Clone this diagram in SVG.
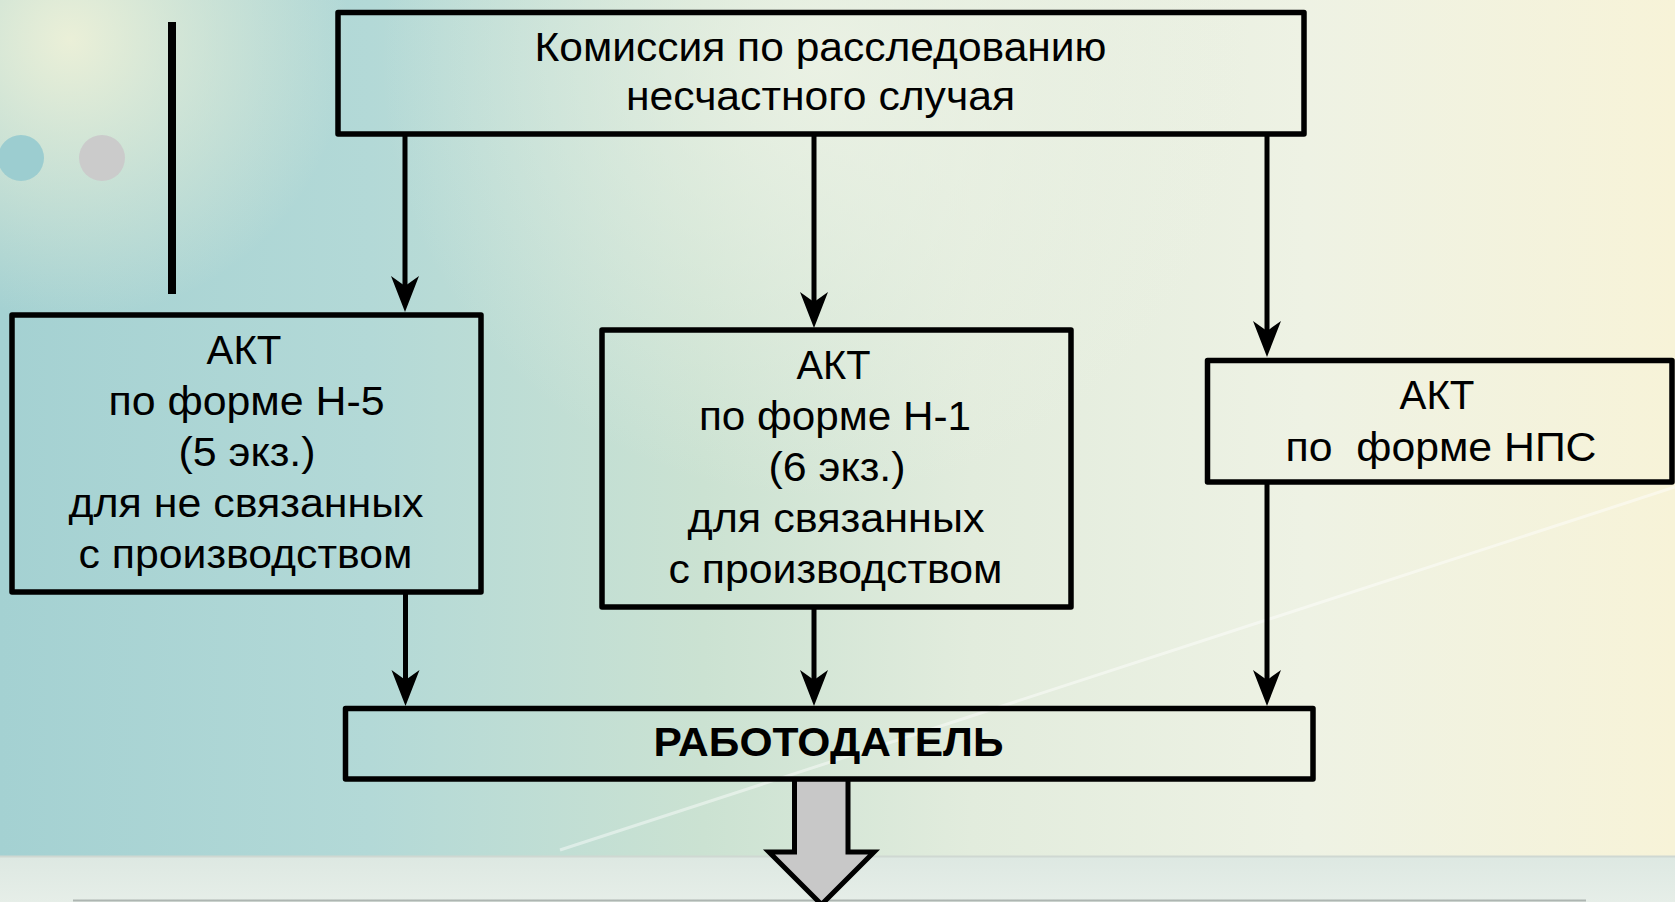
<svg xmlns="http://www.w3.org/2000/svg" width="1675" height="902" viewBox="0 0 1675 902">
  <defs>
    <linearGradient id="bgH" x1="0" y1="0" x2="1" y2="0">
      <stop offset="0" stop-color="#a4d1d2"/>
      <stop offset="0.22" stop-color="#b3d9d7"/>
      <stop offset="0.42" stop-color="#cbe2d2"/>
      <stop offset="0.58" stop-color="#e2ecdd"/>
      <stop offset="0.78" stop-color="#eef2e4"/>
      <stop offset="1" stop-color="#f7f3d8"/>
    </linearGradient>
    <radialGradient id="tl" cx="70" cy="40" r="280" gradientUnits="userSpaceOnUse">
      <stop offset="0" stop-color="#eef1d8" stop-opacity="0.95"/>
      <stop offset="1" stop-color="#eef1d8" stop-opacity="0"/>
    </radialGradient>
    <radialGradient id="tm" cx="820" cy="60" r="440" gradientUnits="userSpaceOnUse">
      <stop offset="0" stop-color="#eef3e6" stop-opacity="0.85"/>
      <stop offset="1" stop-color="#eef3e6" stop-opacity="0"/>
    </radialGradient>
    <linearGradient id="band" x1="0" y1="0" x2="0" y2="1">
      <stop offset="0" stop-color="#dde8e2"/>
      <stop offset="1" stop-color="#e6eee8"/>
    </linearGradient>
    <marker id="ah" markerUnits="userSpaceOnUse" markerWidth="40" markerHeight="30" orient="auto" overflow="visible" refX="0" refY="0">
      <path d="M26,0 L-10,-14 L0,0 L-10,14 Z" fill="#000"/>
    </marker>
  </defs>
  <style>
    .box { fill: none; stroke: #000; stroke-width: 5.5; stroke-linejoin: round; }
    .t { font-family: "Liberation Sans", Arial, sans-serif; font-size: 40px; fill: #000; text-anchor: middle; }
    .b { font-weight: bold; font-size: 41px; }
    .conn { stroke: #000; stroke-width: 5; fill: none; marker-end: url(#ah); }
  </style>

  <!-- background -->
  <g id="background">
    <rect x="0" y="0" width="1675" height="902" fill="url(#bgH)"/>
    <rect x="0" y="0" width="1675" height="902" fill="url(#tm)"/>
    <rect x="0" y="0" width="560" height="420" fill="url(#tl)"/>
    <line x1="560" y1="850" x2="1675" y2="487" stroke="#ffffff" stroke-opacity="0.45" stroke-width="3"/>
    <rect x="0" y="856" width="1675" height="46" fill="url(#band)"/>
    <line x1="0" y1="856.5" x2="1675" y2="856.5" stroke="#cfd8d2" stroke-width="2"/>
    <line x1="73" y1="900.5" x2="1586" y2="900.5" stroke="#aeb6b2" stroke-width="2"/>
  </g>

  <!-- decoration -->
  <g id="decor">
    <circle cx="21" cy="158" r="23" fill="#9ccdd0"/>
    <circle cx="102" cy="158" r="23" fill="#cbcbcb"/>
    <rect x="168" y="22" width="8" height="272" fill="#000"/>
  </g>

  <!-- connectors -->
  <g id="connectors">
    <line class="conn" x1="405" y1="134" x2="405" y2="286"/>
    <line class="conn" x1="814" y1="134" x2="814" y2="302"/>
    <line class="conn" x1="1267" y1="134" x2="1267" y2="331"/>
    <line class="conn" x1="405.5" y1="592" x2="405.5" y2="680"/>
    <line class="conn" x1="814" y1="607" x2="814" y2="680"/>
    <line class="conn" x1="1267" y1="482" x2="1267" y2="680"/>
    <path id="blockArrow" d="M794.5,779 L794.5,852 L769,852 L821.5,904.5 L874,852 L848,852 L848,779" fill="#c8c8c8" stroke="#000" stroke-width="5" stroke-linejoin="miter"/>
  </g>

  <!-- nodes -->
  <g id="commission">
    <rect class="box" x="338" y="12.5" width="966" height="121.5"/>
    <text class="t" x="820.5" y="61" textLength="572" lengthAdjust="spacingAndGlyphs">Комиссия по расследованию</text>
    <text class="t" x="820.5" y="110" textLength="389" lengthAdjust="spacingAndGlyphs">несчастного случая</text>
  </g>

  <g id="actH5">
    <rect class="box" x="12" y="315" width="469" height="277"/>
    <text class="t" x="244" y="363.5" textLength="75" lengthAdjust="spacingAndGlyphs">АКТ</text>
    <text class="t" x="246.5" y="414.7" textLength="276" lengthAdjust="spacingAndGlyphs">по форме Н-5</text>
    <text class="t" x="247" y="465.9" textLength="137" lengthAdjust="spacingAndGlyphs">(5 экз.)</text>
    <text class="t" x="246" y="517.1" textLength="355" lengthAdjust="spacingAndGlyphs">для не связанных</text>
    <text class="t" x="245.5" y="568.3" textLength="334" lengthAdjust="spacingAndGlyphs">с производством</text>
  </g>

  <g id="actH1">
    <rect class="box" x="602" y="330" width="469" height="277"/>
    <text class="t" x="833.5" y="378.5" textLength="74" lengthAdjust="spacingAndGlyphs">АКТ</text>
    <text class="t" x="835" y="429.7" textLength="272" lengthAdjust="spacingAndGlyphs">по форме Н-1</text>
    <text class="t" x="837" y="480.9" textLength="137" lengthAdjust="spacingAndGlyphs">(6 экз.)</text>
    <text class="t" x="836" y="532.1" textLength="297" lengthAdjust="spacingAndGlyphs">для связанных</text>
    <text class="t" x="835.5" y="583.3" textLength="334" lengthAdjust="spacingAndGlyphs">с производством</text>
  </g>

  <g id="actNPS">
    <rect class="box" x="1207.5" y="360.5" width="464.5" height="121.5"/>
    <text class="t" x="1437" y="408.5" textLength="75" lengthAdjust="spacingAndGlyphs">АКТ</text>
    <text class="t" x="1441" y="460.5" textLength="311" lengthAdjust="spacingAndGlyphs" xml:space="preserve">по  форме НПС</text>
  </g>

  <g id="employer">
    <rect class="box" x="345.5" y="708.5" width="967.5" height="70.5"/>
    <text class="t b" x="828.5" y="756" textLength="350" lengthAdjust="spacingAndGlyphs">РАБОТОДАТЕЛЬ</text>
  </g>
</svg>
